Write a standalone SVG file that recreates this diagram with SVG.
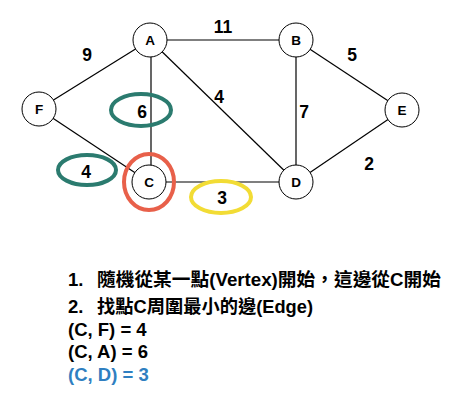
<svg xmlns="http://www.w3.org/2000/svg" width="465" height="419" viewBox="0 0 465 419">
<style>
.node circle{fill:#fff;stroke:#000;stroke-width:1}
.node text{font-family:"Liberation Sans",Arial,sans-serif;font-weight:bold;font-size:13.5px;text-anchor:middle;fill:#000}
.edges line{stroke:#000;stroke-width:1.2}
.w{font-family:"Liberation Sans",Arial,sans-serif;font-weight:bold;font-size:17.5px;text-anchor:middle;fill:#000}
.hl{fill:none;stroke-width:4}
.t{font-family:"Liberation Sans","Noto Sans CJK TC",sans-serif;font-weight:bold;font-size:18.5px;fill:#000}
</style>
<rect width="465" height="419" fill="#fff"/>
<g id="edges" class="edges">
<line x1="150" y1="40" x2="296" y2="40"/>
<line x1="150" y1="40" x2="39" y2="109"/>
<line x1="151" y1="40" x2="151" y2="182"/>
<line x1="150" y1="40" x2="296" y2="182"/>
<line x1="296" y1="40" x2="296" y2="182"/>
<line x1="296" y1="40" x2="402" y2="110"/>
<line x1="402" y1="110" x2="296" y2="182"/>
<line x1="39" y1="109" x2="149" y2="182"/>
<line x1="149" y1="182" x2="296" y2="182"/>
</g>
<g id="weights">
<text class="w" x="223" y="33">11</text>
<text class="w" x="87" y="61">9</text>
<text class="w" x="352" y="61">5</text>
<text class="w" x="219" y="103">4</text>
<text class="w" x="304" y="118">7</text>
<text class="w" x="369" y="170">2</text>
<text class="w" x="142" y="118">6</text>
<text class="w" x="86" y="178">4</text>
<text class="w" x="222" y="204">3</text>
</g>
<g id="highlights">
<ellipse class="hl" cx="141" cy="110" rx="30" ry="16" stroke="#2b7b6f"/>
<ellipse class="hl" cx="87" cy="170" rx="29" ry="15" stroke="#2b7b6f"/>
<ellipse class="hl" cx="221" cy="197" rx="30" ry="16" stroke="#f2dc35"/>
</g>
<g id="A" class="node"><circle cx="150" cy="40" r="17"/><text x="150" y="45">A</text></g>
<g id="B" class="node"><circle cx="296" cy="40" r="17"/><text x="296" y="45">B</text></g>
<g id="E" class="node"><circle cx="402" cy="110" r="17"/><text x="402" y="115">E</text></g>
<g id="F" class="node"><circle cx="39" cy="109" r="17"/><text x="39" y="114">F</text></g>
<g id="C" class="node"><circle cx="149" cy="182" r="17"/><text x="149" y="187">C</text></g>
<g id="D" class="node"><circle cx="296" cy="182" r="17"/><text x="296" y="187">D</text></g>
<ellipse class="hl" cx="149" cy="182" rx="25" ry="28" stroke="#e8604a"/>
<g id="notes">
<text class="t" x="68" y="286">1.</text>
<text class="t" x="97" y="286" textLength="344" lengthAdjust="spacingAndGlyphs">隨機從某一點(Vertex)開始，這邊從C開始</text>
<text class="t" x="68" y="313">2.</text>
<text class="t" x="97" y="313" textLength="216" lengthAdjust="spacingAndGlyphs">找點C周圍最小的邊(Edge)</text>
<text class="t" x="68" y="336">(C, F) = 4</text>
<text class="t" x="68" y="358">(C, A) = 6</text>
<text class="t" x="68" y="381" style="fill:#2f7fc1">(C, D) = 3</text>
</g>
</svg>
